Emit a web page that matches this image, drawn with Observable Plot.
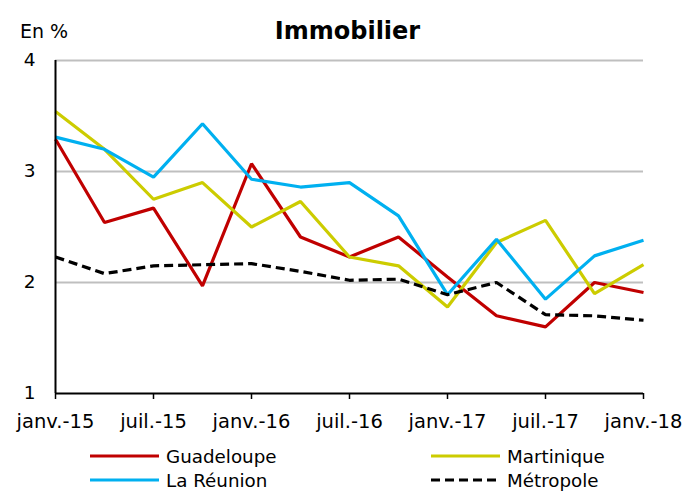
<!DOCTYPE html>
<html>
<head>
<meta charset="utf-8">
<script src="https://cdn.jsdelivr.net/npm/d3@7"></script>
<script src="https://cdn.jsdelivr.net/npm/@observablehq/plot@0.6"></script>
<style>
  body { margin: 0; background: #fff; font-family: "DejaVu Sans", Verdana, sans-serif; }
  #wrap { position: relative; width: 695px; height: 492px; overflow: hidden; }
  #title { position: absolute; left: 0; width: 695px; top: 17px; text-align: center; font-weight: bold; font-size: 24px; color: #000; }
  #unit { position: absolute; left: 20px; top: 20px; font-size: 19px; color: #000; }
  #chart { position: absolute; left: 0; top: 0; }
  .leg { position: absolute; font-size: 18.3px; color: #000; display: flex; align-items: center; }
  .leg svg { margin-right: 7px; }
</style>
</head>
<body>
<div id="wrap">
  <div id="chart"></div>
  <div id="title">Immobilier</div>
  <div id="unit">En %</div>
  <div id="legend"></div>
</div>
<script>
// Quarterly observations, janv.-15 .. janv.-18
const quarters = ["2015-01","2015-04","2015-07","2015-10","2016-01","2016-04","2016-07","2016-10","2017-01","2017-04","2017-07","2017-10","2018-01"];
const guadeloupe = [3.29, 2.54, 2.67, 1.97, 3.07, 2.41, 2.23, 2.41, 2.05, 1.70, 1.60, 2.00, 1.91];
const martinique = [3.54, 3.20, 2.75, 2.90, 2.50, 2.73, 2.23, 2.15, 1.78, 2.36, 2.56, 1.90, 2.16];
const reunion    = [3.31, 3.20, 2.95, 3.43, 2.93, 2.86, 2.90, 2.60, 1.89, 2.39, 1.85, 2.24, 2.38];
const metropole  = [2.23, 2.08, 2.15, 2.16, 2.17, 2.10, 2.02, 2.03, 1.89, 2.00, 1.71, 1.70, 1.66];
const tickIndex  = [0, 2, 4, 6, 8, 10, 12];
const tickLabels = ["janv.-15","juil.-15","janv.-16","juil.-16","janv.-17","juil.-17","janv.-18"];
const yTicks = [1, 2, 3, 4];
const gridValues = [2, 3, 4];

const series = [
  {name: "Guadeloupe", values: guadeloupe, color: "#c00000", dash: null},
  {name: "Martinique", values: martinique, color: "#cccc00", dash: null},
  {name: "La Réunion", values: reunion, color: "#00b0f0", dash: null},
  {name: "Métropole", values: metropole, color: "#000000", dash: "9,5"}
];

const rows = series.flatMap(s => s.values.map((v, i) => ({serie: s.name, i, v, q: quarters[i]})));

const lineMarks = series.map(s =>
  Plot.line(rows.filter(d => d.serie === s.name), {
    x: "i", y: "v", stroke: s.color, strokeWidth: 3.2,
    strokeDasharray: s.dash || undefined, strokeLinejoin: "miter", strokeLinecap: "butt"
  })
);

const chart = Plot.plot({
  width: 695,
  height: 440,
  marginTop: 60,
  marginBottom: 47,
  marginLeft: 55,
  marginRight: 52,
  style: {fontFamily: "DejaVu Sans, Verdana, sans-serif", fontSize: "18px", color: "#000", background: "transparent"},
  x: {type: "linear", domain: [0, 12]},
  y: {domain: [1, 4]},
  marks: [
    Plot.ruleY(gridValues, {stroke: "#bfbfbf", strokeWidth: 2}),
    ...lineMarks,
    Plot.ruleX([0], {stroke: "#000", strokeWidth: 2}),
    Plot.ruleY([1], {stroke: "#000", strokeWidth: 2}),
    Plot.axisX(tickIndex, {tickFormat: (d, k) => tickLabels[k], tickSize: 6, tickPadding: 15, stroke: "#000", strokeWidth: 1.5, label: null, fontSize: 19.5}),
    Plot.axisY(yTicks, {tickFormat: d => String(d), tickSize: 0, tickPadding: 20, label: null, fontSize: 18.5})
  ]
});
document.getElementById("chart").appendChild(chart);

// Legend
const legendPos = [
  {left: 90, top: 444}, {left: 431, top: 444},
  {left: 90, top: 468}, {left: 431, top: 468}
];
const legend = document.getElementById("legend");
series.forEach((s, k) => {
  const div = document.createElement("div");
  div.className = "leg";
  div.style.left = legendPos[k].left + "px";
  div.style.top = legendPos[k].top + "px";
  div.innerHTML = `<svg width="69" height="24"><line x1="0" x2="69" y1="12" y2="12" stroke="${s.color}" stroke-width="3.2" ${s.dash ? `stroke-dasharray="${s.dash}"` : ""}/></svg><span>${s.name}</span>`;
  legend.appendChild(div);
});
</script>
</body>
</html>
